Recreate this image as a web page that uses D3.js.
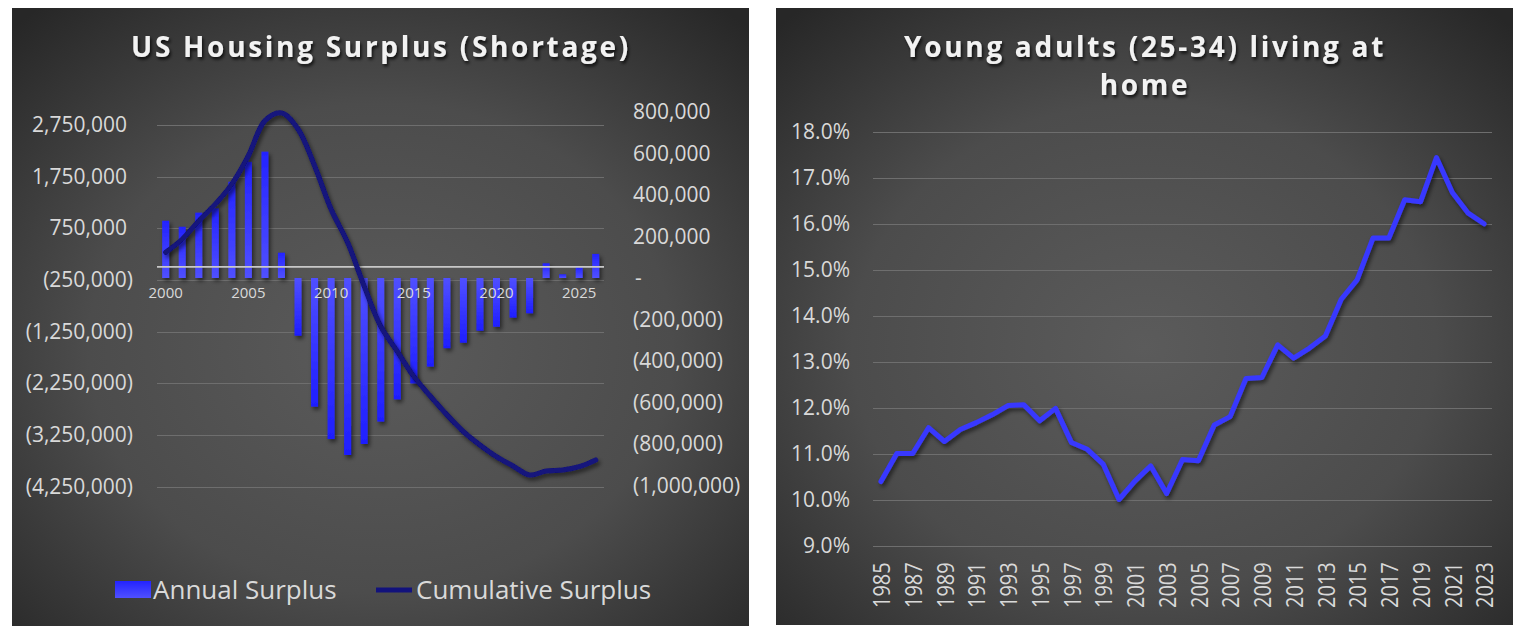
<!DOCTYPE html>
<html><head><meta charset="utf-8">
<script src="https://cdn.jsdelivr.net/npm/d3@7"></script>
<style>
body{margin:0;background:#fff}
svg{display:block}
text{font-family:"Open Sans",sans-serif}
</style>
</head><body>
<svg id="c" width="1525" height="643"></svg>
<script>
// ---------- Left chart data ----------
const housingYears = [2000,2001,2002,2003,2004,2005,2006,2007,2008,2009,2010,2011,2012,2013,2014,2015,2016,2017,2018,2019,2020,2021,2022,2023,2024,2025,2026];
const annualSurplus = [276000,247000,315000,336000,464000,560000,609000,122000,-278000,-620000,-776000,-853000,-800000,-692000,-585000,-508000,-427000,-338000,-312000,-254000,-235000,-191000,-170000,71000,18000,52000,116000];
const cumulativeSurplus = [283000,536000,891000,1216000,1604000,2153000,2833000,2983000,2672000,1959000,1118000,472000,-371000,-1148000,-1633000,-2118000,-2500000,-2860000,-3186000,-3445000,-3671000,-3853000,-4027000,-3950000,-3930000,-3866000,-3736000];
const housingLeftTicks = [-4250000,-3250000,-2250000,-1250000,-250000,750000,1750000,2750000];
const housingRightTicks = [-1000000,-800000,-600000,-400000,-200000,0,200000,400000,600000,800000];
const housingYearLabels = [2000,2005,2010,2015,2020,2025];
const housingTitle = "US Housing Surplus (Shortage)";
const housingSeriesNames = ["Annual Surplus","Cumulative Surplus"];

// ---------- Right chart data ----------
const homeYears = [1985,1986,1987,1988,1989,1990,1991,1992,1993,1994,1995,1996,1997,1998,1999,2000,2001,2002,2003,2004,2005,2006,2007,2008,2009,2010,2011,2012,2013,2014,2015,2016,2017,2018,2019,2020,2021,2022,2023];
const livingAtHome = [10.40,11.01,11.01,11.57,11.27,11.53,11.68,11.85,12.05,12.07,11.72,11.99,11.25,11.10,10.78,10.01,10.41,10.74,10.14,10.88,10.85,11.63,11.81,12.64,12.66,13.37,13.08,13.30,13.56,14.36,14.78,15.69,15.69,16.52,16.48,17.44,16.68,16.23,16.00];
const livingAverage = [12.73];
const homeTicks = [9,10,11,12,13,14,15,16,17,18];
const homeYearLabels = [1985,1987,1989,1991,1993,1995,1997,1999,2001,2003,2005,2007,2009,2011,2013,2015,2017,2019,2021,2023];
const homeTitle = ["Young adults (25-34) living at","home"];

const svg = d3.select("#c");
const defs = svg.append("defs");

const bg = defs.append("radialGradient").attr("id","bg").attr("cx","50%").attr("cy","55%").attr("r","72%");
bg.append("stop").attr("offset","0%").attr("stop-color","#5b5b5b");
bg.append("stop").attr("offset","55%").attr("stop-color","#4c4c4c");
bg.append("stop").attr("offset","100%").attr("stop-color","#272727");

const gPos = defs.append("linearGradient").attr("id","barPos").attr("x1",0).attr("y1",0).attr("x2",0).attr("y2",1);
gPos.append("stop").attr("offset","0%").attr("stop-color","#2323ff");
gPos.append("stop").attr("offset","100%").attr("stop-color","#5050ff");
const gNeg = defs.append("linearGradient").attr("id","barNeg").attr("x1",0).attr("y1",0).attr("x2",0).attr("y2",1);
gNeg.append("stop").attr("offset","0%").attr("stop-color","#5050ff");
gNeg.append("stop").attr("offset","100%").attr("stop-color","#1e1eff");

function shadow(id, dx, dy, sd, op){
  const f = defs.append("filter").attr("id",id).attr("x","-20%").attr("y","-20%").attr("width","140%").attr("height","140%");
  f.append("feDropShadow").attr("dx",dx).attr("dy",dy).attr("stdDeviation",sd).attr("flood-color","#000").attr("flood-opacity",op);
}
shadow("sh",2,3,2,0.55);
shadow("tsh",1.5,2.5,1.5,0.75);

// panels
svg.append("rect").attr("x",12).attr("y",8).attr("width",737).attr("height",618).attr("fill","url(#bg)");
svg.append("rect").attr("x",776).attr("y",8).attr("width",737).attr("height",617).attr("fill","url(#bg)");

const txt = "#d9d9d9", grid = "#6e6e6e";
const absFmt = d3.format(",");

// ================= LEFT CHART =================
const L = svg.append("g");
L.append("text").attr("x",381).attr("y",57).attr("text-anchor","middle")
  .attr("font-size",28).attr("font-weight",700).attr("letter-spacing","2.7px")
  .attr("fill","#f2f2f2").attr("filter","url(#tsh)").text(housingTitle);

const x1 = d3.scaleBand().domain(housingYears).range([157.4,604]);
const cx1 = d => x1(d) + x1.bandwidth()/2;
const yCum = d3.scaleLinear().domain([-4250000,3000000]).range([486.5,112]);
const yAnn = d3.scaleLinear().domain([-1000000,800000]).range([485.5,112]);

L.append("g").selectAll("line").data(housingLeftTicks).join("line")
  .attr("x1",157).attr("x2",604).attr("y1",d=>Math.round(yCum(d))+0.5).attr("y2",d=>Math.round(yCum(d))+0.5)
  .attr("stroke",grid).attr("stroke-width",1);

// left axis
const axL = L.append("g").attr("transform","translate(133,0)")
  .call(d3.axisLeft(yCum).tickValues(housingLeftTicks).tickSize(0).tickPadding(0)
    .tickFormat(d => d < 0 ? "(" + absFmt(-d) + ")" : absFmt(d)));
axL.select(".domain").remove();
axL.selectAll("text").attr("font-size",21).attr("fill",txt).attr("font-family","Open Sans")
  .attr("dx", d => d < 0 ? 0 : -6);

// right axis
const axR = L.append("g").attr("transform","translate(633,0)")
  .call(d3.axisRight(yAnn).tickValues(housingRightTicks).tickSize(0).tickPadding(0)
    .tickFormat(d => d === 0 ? "-" : d < 0 ? "(" + absFmt(-d) + ")" : absFmt(d)));
axR.select(".domain").remove();
axR.selectAll("text").attr("font-size",21).attr("fill",txt).attr("font-family","Open Sans")
  .attr("dx", d => d === 0 ? 2 : 0);

// bars
const bw = 7;
L.append("g").attr("filter","url(#sh)").selectAll("rect").data(housingYears).join("rect")
  .attr("x", d => cx1(d) - bw/2).attr("width", bw)
  .attr("y", (d,i) => annualSurplus[i] >= 0 ? yAnn(annualSurplus[i]) : yAnn(0))
  .attr("height", (d,i) => Math.abs(yAnn(annualSurplus[i]) - yAnn(0)))
  .attr("fill", (d,i) => annualSurplus[i] >= 0 ? "url(#barPos)" : "url(#barNeg)");

// category axis line
L.append("line").attr("x1",157).attr("x2",604).attr("y1",yCum(0)).attr("y2",yCum(0))
  .attr("stroke","#c8c8c8").attr("stroke-width",1.8);

// year labels
L.append("g").selectAll("text").data(housingYearLabels).join("text")
  .attr("x", d => cx1(d)).attr("y",298).attr("text-anchor","middle")
  .attr("font-size",15).attr("fill",txt).text(d => d);

// cumulative line
const cumLine = d3.line().x((d,i) => cx1(housingYears[i])).y(d => yCum(d)).curve(d3.curveCatmullRom.alpha(0.5));
L.append("path").datum(cumulativeSurplus).attr("d",cumLine).attr("fill","none")
  .attr("stroke","#12127c").attr("stroke-width",5).attr("stroke-linecap","round").attr("filter","url(#sh)");

// legend
L.append("rect").attr("x",115).attr("y",581).attr("width",36).attr("height",17).attr("fill","url(#barPos)");
L.append("text").attr("x",153).attr("y",599).attr("font-size",26).attr("fill",txt).text(housingSeriesNames[0]);
L.append("line").attr("x1",376).attr("x2",412).attr("y1",590).attr("y2",590).attr("stroke","#12127c").attr("stroke-width",5);
L.append("text").attr("x",416).attr("y",599).attr("font-size",26).attr("fill",txt).text(housingSeriesNames[1]);

// ================= RIGHT CHART =================
const R = svg.append("g");
R.append("g").selectAll("text").data(homeTitle).join("text")
  .attr("x",1145).attr("y",(d,i)=>57 + i*38).attr("text-anchor","middle")
  .attr("font-size",28).attr("font-weight",700).attr("letter-spacing","2.7px")
  .attr("fill","#f2f2f2").attr("filter","url(#tsh)").text(d=>d);

const x2 = d3.scaleBand().domain(homeYears).range([873,1492]);
const cx2 = d => x2(d) + x2.bandwidth()/2;
const y2 = d3.scaleLinear().domain([9,18]).range([546,131.7]);

R.append("g").selectAll("line").data(homeTicks).join("line")
  .attr("x1",873).attr("x2",1492).attr("y1",d=>Math.round(y2(d))+0.5).attr("y2",d=>Math.round(y2(d))+0.5)
  .attr("stroke",grid).attr("stroke-width",1);

const ay2 = R.append("g").attr("transform","translate(850,0)")
  .call(d3.axisLeft(y2).tickValues(homeTicks).tickSize(0).tickPadding(0).tickFormat(d => d.toFixed(1) + "%"));
ay2.select(".domain").remove();
ay2.selectAll("text").attr("font-size",21).attr("fill",txt).attr("font-family","Open Sans");

R.append("g").selectAll("text").data(homeYearLabels).join("text")
  .attr("transform", d => `translate(${cx2(d)+1},608) rotate(-90) scale(1,1.18)`)
  .attr("dy","0.35em").attr("text-anchor","start")
  .attr("font-size",20).attr("fill",txt).text(d => d);

// average line
const avgLine = d3.line().x(d => cx2(d)).y(() => y2(livingAverage[0]));
R.append("path").datum([homeYears[0], homeYears[homeYears.length-1]]).attr("d",avgLine)
  .attr("fill","none").attr("stroke","#12127c").attr("stroke-width",5).attr("stroke-linecap","round").attr("filter","url(#sh)");

const homeLine = d3.line().x((d,i) => cx2(homeYears[i])).y(d => y2(d));
R.append("path").datum(livingAtHome).attr("d",homeLine).attr("fill","none")
  .attr("stroke","#3838ff").attr("stroke-width",5).attr("stroke-linejoin","round").attr("stroke-linecap","round")
  .attr("filter","url(#sh)");
</script>
</body></html>
